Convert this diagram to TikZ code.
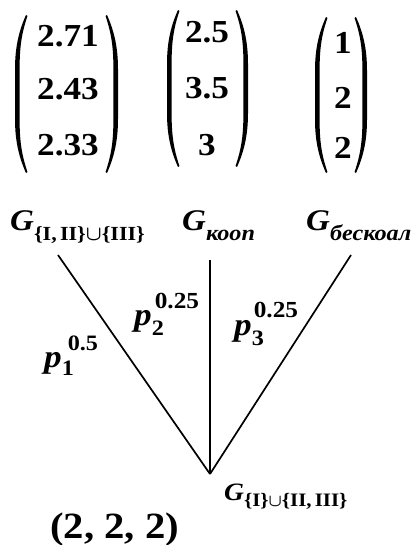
\documentclass[tikz,border=0pt]{standalone}
\usepackage{fontspec}
\setmainfont{Liberation Serif}[FakeStretch=1.1]
\newcommand{\myparpath}{(11,0) .. controls (3,18) and (0,35) .. (0,55) -- (0,105) .. controls (0,125) and (3,142) .. (11,160) -- (12.5,159) .. controls (6,140) and (4.6,125) .. (4.6,105) -- (4.6,55) .. controls (4.6,35) and (6,20) .. (12.5,1) -- cycle}
\newcommand{\mylpar}[3]{\fill[shift={(#1,#2)}, yscale={(#3-#2)/160}] \myparpath;}
\newcommand{\myrpar}[3]{\fill[shift={(#1,#2)}, xscale=-1, yscale={(#3-#2)/160}] \myparpath;}
\begin{document}
\begin{tikzpicture}[x=1pt,y=-1pt,
  num/.style={font=\fontsize{32}{32}\selectfont\bfseries, inner sep=0pt},
  glab/.style={font=\fontsize{30}{30}\selectfont\bfseries\itshape, inner sep=0pt, anchor=base west},
  plab/.style={font=\fontsize{32}{32}\selectfont\bfseries\itshape, inner sep=0pt, anchor=base west},
  edge/.style={line width=1.7pt}]
\useasboundingbox (0,0) rectangle (414,545);
% matrix 1
\mylpar{15}{15}{173}
\myrpar{118}{15}{173}
\node[num] (a11) at (68,36) {2.71};
\node[num] (a12) at (68,89) {2.43};
\node[num] (a13) at (68,145) {2.33};
% matrix 2
\mylpar{167}{10}{167}
\myrpar{248}{10}{167}
\node[num] (a21) at (207,32) {2.5};
\node[num] (a22) at (207,88) {3.5};
\node[num] (a23) at (207,145) {3};
% matrix 3
\mylpar{315}{17}{173}
\myrpar{367}{17}{173}
\node[num] (a31) at (343,43) {1};
\node[num] (a32) at (343,98) {2};
\node[num] (a33) at (343,148) {2};
% G labels
\node[glab] (g1) at (10,230) {G\raisebox{-10pt}{\fontsize{20}{20}\selectfont\upshape\{I,\,II\}\boldmath$\cup$\{III\}}};
\node[glab] (g2) at (182,230) {G\raisebox{-10pt}{\fontsize{22}{22}\selectfont кооп}};
\node[glab] (g3) at (306,230) {G\raisebox{-10pt}{\fontsize{22}{22}\selectfont бескоал}};
\node[glab, font=\fontsize{25}{25}\selectfont\bfseries\itshape] (g4) at (224,500) {G\raisebox{-6pt}{\fontsize{19}{19}\selectfont\upshape\{I\}\boldmath$\cup$\{II,\,III\}}};
% connectors
\coordinate (c1) at (58,255);
\coordinate (c2) at (210,260);
\coordinate (c3) at (351,255);
\coordinate (apex) at (210,474);
\draw[edge] (c1) -- (apex);
\draw[edge] (c2) -- (apex);
\draw[edge] (c3) -- (apex);
% p labels
\node[plab] (p1) at (44,367) {p\rlap{\raisebox{-8pt}{\fontsize{22}{22}\selectfont\upshape 1}}\kern6pt\raisebox{17pt}{\fontsize{22}{22}\selectfont\upshape 0.5}};
\node[plab] (p2) at (134,325) {p\rlap{\raisebox{-10pt}{\fontsize{22}{22}\selectfont\upshape 2}}\kern3pt\raisebox{17pt}{\fontsize{23}{23}\selectfont\upshape 0.25}};
\node[plab] (p3) at (234,335) {p\rlap{\raisebox{-10pt}{\fontsize{22}{22}\selectfont\upshape 3}}\kern2pt\raisebox{18pt}{\fontsize{23}{23}\selectfont\upshape 0.25}};
% bottom vector
\node[num, font=\fontsize{37}{37}\selectfont\bfseries, anchor=base west] (v) at (50,538) {(2, 2, 2)};
\end{tikzpicture}
\end{document}
